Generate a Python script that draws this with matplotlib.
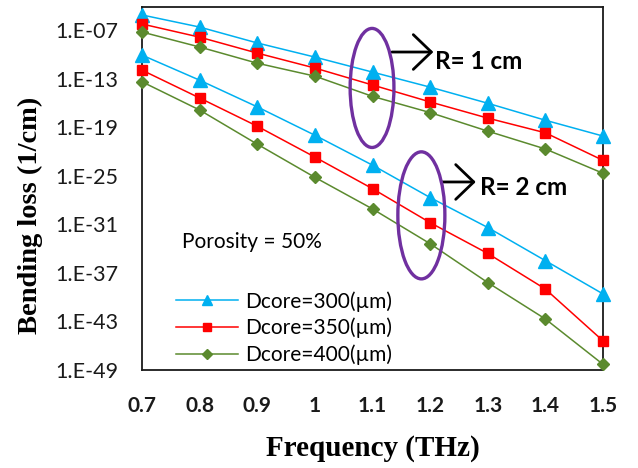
import matplotlib
matplotlib.use("Agg")
import matplotlib.pyplot as plt
from matplotlib.lines import Line2D
from matplotlib.patches import Ellipse

# ---------------------------------------------------------------------------
# Data
# ---------------------------------------------------------------------------
freq = [0.7, 0.8, 0.9, 1.0, 1.1, 1.2, 1.3, 1.4, 1.5]
freq_labels = ["0.7", "0.8", "0.9", "1", "1.1", "1.2", "1.3", "1.4", "1.5"]

# R = 1 cm
r1_d300 = [7.2e-06, 2.3e-07, 2.5e-09, 4.5e-11, 6.3e-13, 8.7e-15, 8.9e-17, 7.1e-19, 7.9e-21]
r1_d350 = [5.5e-07, 1.3e-08, 1.4e-10, 2.0e-12, 1.6e-14, 1.3e-16, 1.3e-18, 2.0e-20, 7.9e-24]
r1_d400 = [5.6e-08, 7.9e-10, 7.9e-12, 2.0e-13, 6.3e-16, 6.3e-18, 3.2e-20, 2.0e-22, 2.0e-25]
# R = 2 cm
r2_d300 = [7.9e-11, 6.3e-14, 3.2e-17, 1.0e-20, 2.0e-24, 2.0e-28, 4.0e-32, 3.2e-36, 2.5e-40]
r2_d350 = [1.1e-12, 4.0e-16, 1.3e-19, 2.0e-23, 2.5e-27, 1.6e-31, 2.5e-35, 1.0e-39, 4.0e-46]
r2_d400 = [4.0e-14, 1.3e-17, 7.9e-22, 6.3e-26, 7.9e-30, 4.0e-34, 6.3e-39, 2.0e-43, 5.0e-49]

y_ticks = [1e-07, 1e-13, 1e-19, 1e-25, 1e-31, 1e-37, 1e-43, 1e-49]
y_tick_labels = ["1.E-07", "1.E-13", "1.E-19", "1.E-25", "1.E-31", "1.E-37", "1.E-43", "1.E-49"]

series_labels = ["Dcore=300(\u00b5m)", "Dcore=350(\u00b5m)", "Dcore=400(\u00b5m)"]

# ---------------------------------------------------------------------------
# Style
# ---------------------------------------------------------------------------
BLUE = "#00B0F0"
RED = "#FF0000"
GREEN = "#5B8A2E"
PURPLE = "#7030A0"
styles = [
    dict(color=BLUE, marker="^", ms=9.5),
    dict(color=RED, marker="s", ms=7.5),
    dict(color=GREEN, marker="D", ms=6.5),
]

fig = plt.figure(figsize=(6.38, 4.68), dpi=100)
ax = fig.add_axes([142 / 638, 98 / 468, 461 / 638, 363 / 468])

for data in ([r1_d300, r1_d350, r1_d400], [r2_d300, r2_d350, r2_d400]):
    for vals, st in zip(data, styles):
        ax.plot(freq, vals, color=st["color"], lw=1.1, marker=st["marker"],
                ms=st["ms"], mec=st["color"], mfc=st["color"], clip_on=False,
                zorder=3)

ax.set_yscale("log")
ax.set_xlim(0.7, 1.5)
ax.set_ylim(1e-49, 10 ** -4.16)
ax.set_xticks(freq)
ax.set_xticklabels(freq_labels, fontfamily="Lato", fontweight="bold", fontsize=15)
ax.set_yticks(y_ticks)
ax.set_yticklabels(y_tick_labels, fontfamily="Lato", fontsize=15.5)
ax.minorticks_off()
ax.tick_params(axis="both", length=0, colors="#1a1a1a")
ax.tick_params(axis="y", pad=17)
ax.tick_params(axis="x", pad=19)
for sp in ax.spines.values():
    sp.set_linewidth(1.3)
    sp.set_color("#1a1a1a")

ax.set_xlabel("Frequency (THz)", fontfamily="Liberation Serif",
              fontweight="bold", fontsize=21)
ax.xaxis.set_label_coords(0.501, -0.215)
ax.xaxis.label.set_va("center")
ax.set_ylabel("Bending loss (1/cm)", fontfamily="Liberation Serif",
              fontweight="bold", fontsize=20.5)
ax.yaxis.set_label_coords(-0.243, 0.427)
ax.yaxis.label.set_va("center")

# Ellipses marking the two bending radii
ax.add_patch(Ellipse((0.499, 0.777), 0.095, 0.328, transform=ax.transAxes,
                     fill=False, ec=PURPLE, lw=2.4, zorder=4))
ax.add_patch(Ellipse((0.606, 0.426), 0.102, 0.350, transform=ax.transAxes,
                     fill=False, ec=PURPLE, lw=2.4, zorder=4))

# Arrows + labels (open chevron heads, as in the reference)
arrow_style = dict(arrowstyle="->,head_length=1.3,head_width=1.25",
                   color="black", lw=2.0, shrinkA=0, shrinkB=0)
ax.annotate("", xy=(0.632, 0.876), xytext=(0.542, 0.876),
            xycoords="axes fraction", arrowprops=arrow_style)
ax.text(0.636, 0.851, "R= 1 cm", transform=ax.transAxes, fontfamily="Lato",
        fontweight="bold", fontsize=17.5, va="center", ha="left")
ax.annotate("", xy=(0.724, 0.518), xytext=(0.651, 0.518),
            xycoords="axes fraction", arrowprops=arrow_style)
ax.text(0.734, 0.503, "R= 2 cm", transform=ax.transAxes, fontfamily="Lato",
        fontweight="bold", fontsize=17.5, va="center", ha="left")

ax.text(0.087, 0.353, "Porosity = 50%", transform=ax.transAxes,
        fontfamily="Lato", fontsize=15, va="center", ha="left")

handles = [Line2D([], [], color=st["color"], lw=1.1, marker=st["marker"],
                  ms=st["ms"] * 0.8, mec=st["color"], mfc=st["color"])
           for st in styles]
ax.legend(handles, series_labels, loc="lower left",
          bbox_to_anchor=(0.055, -0.01), frameon=False,
          prop=dict(family="Lato", size=15), handlelength=3.0,
          handletextpad=0.35, labelspacing=0.3, borderaxespad=0.0)

fig.savefig("out.png", dpi=100)
